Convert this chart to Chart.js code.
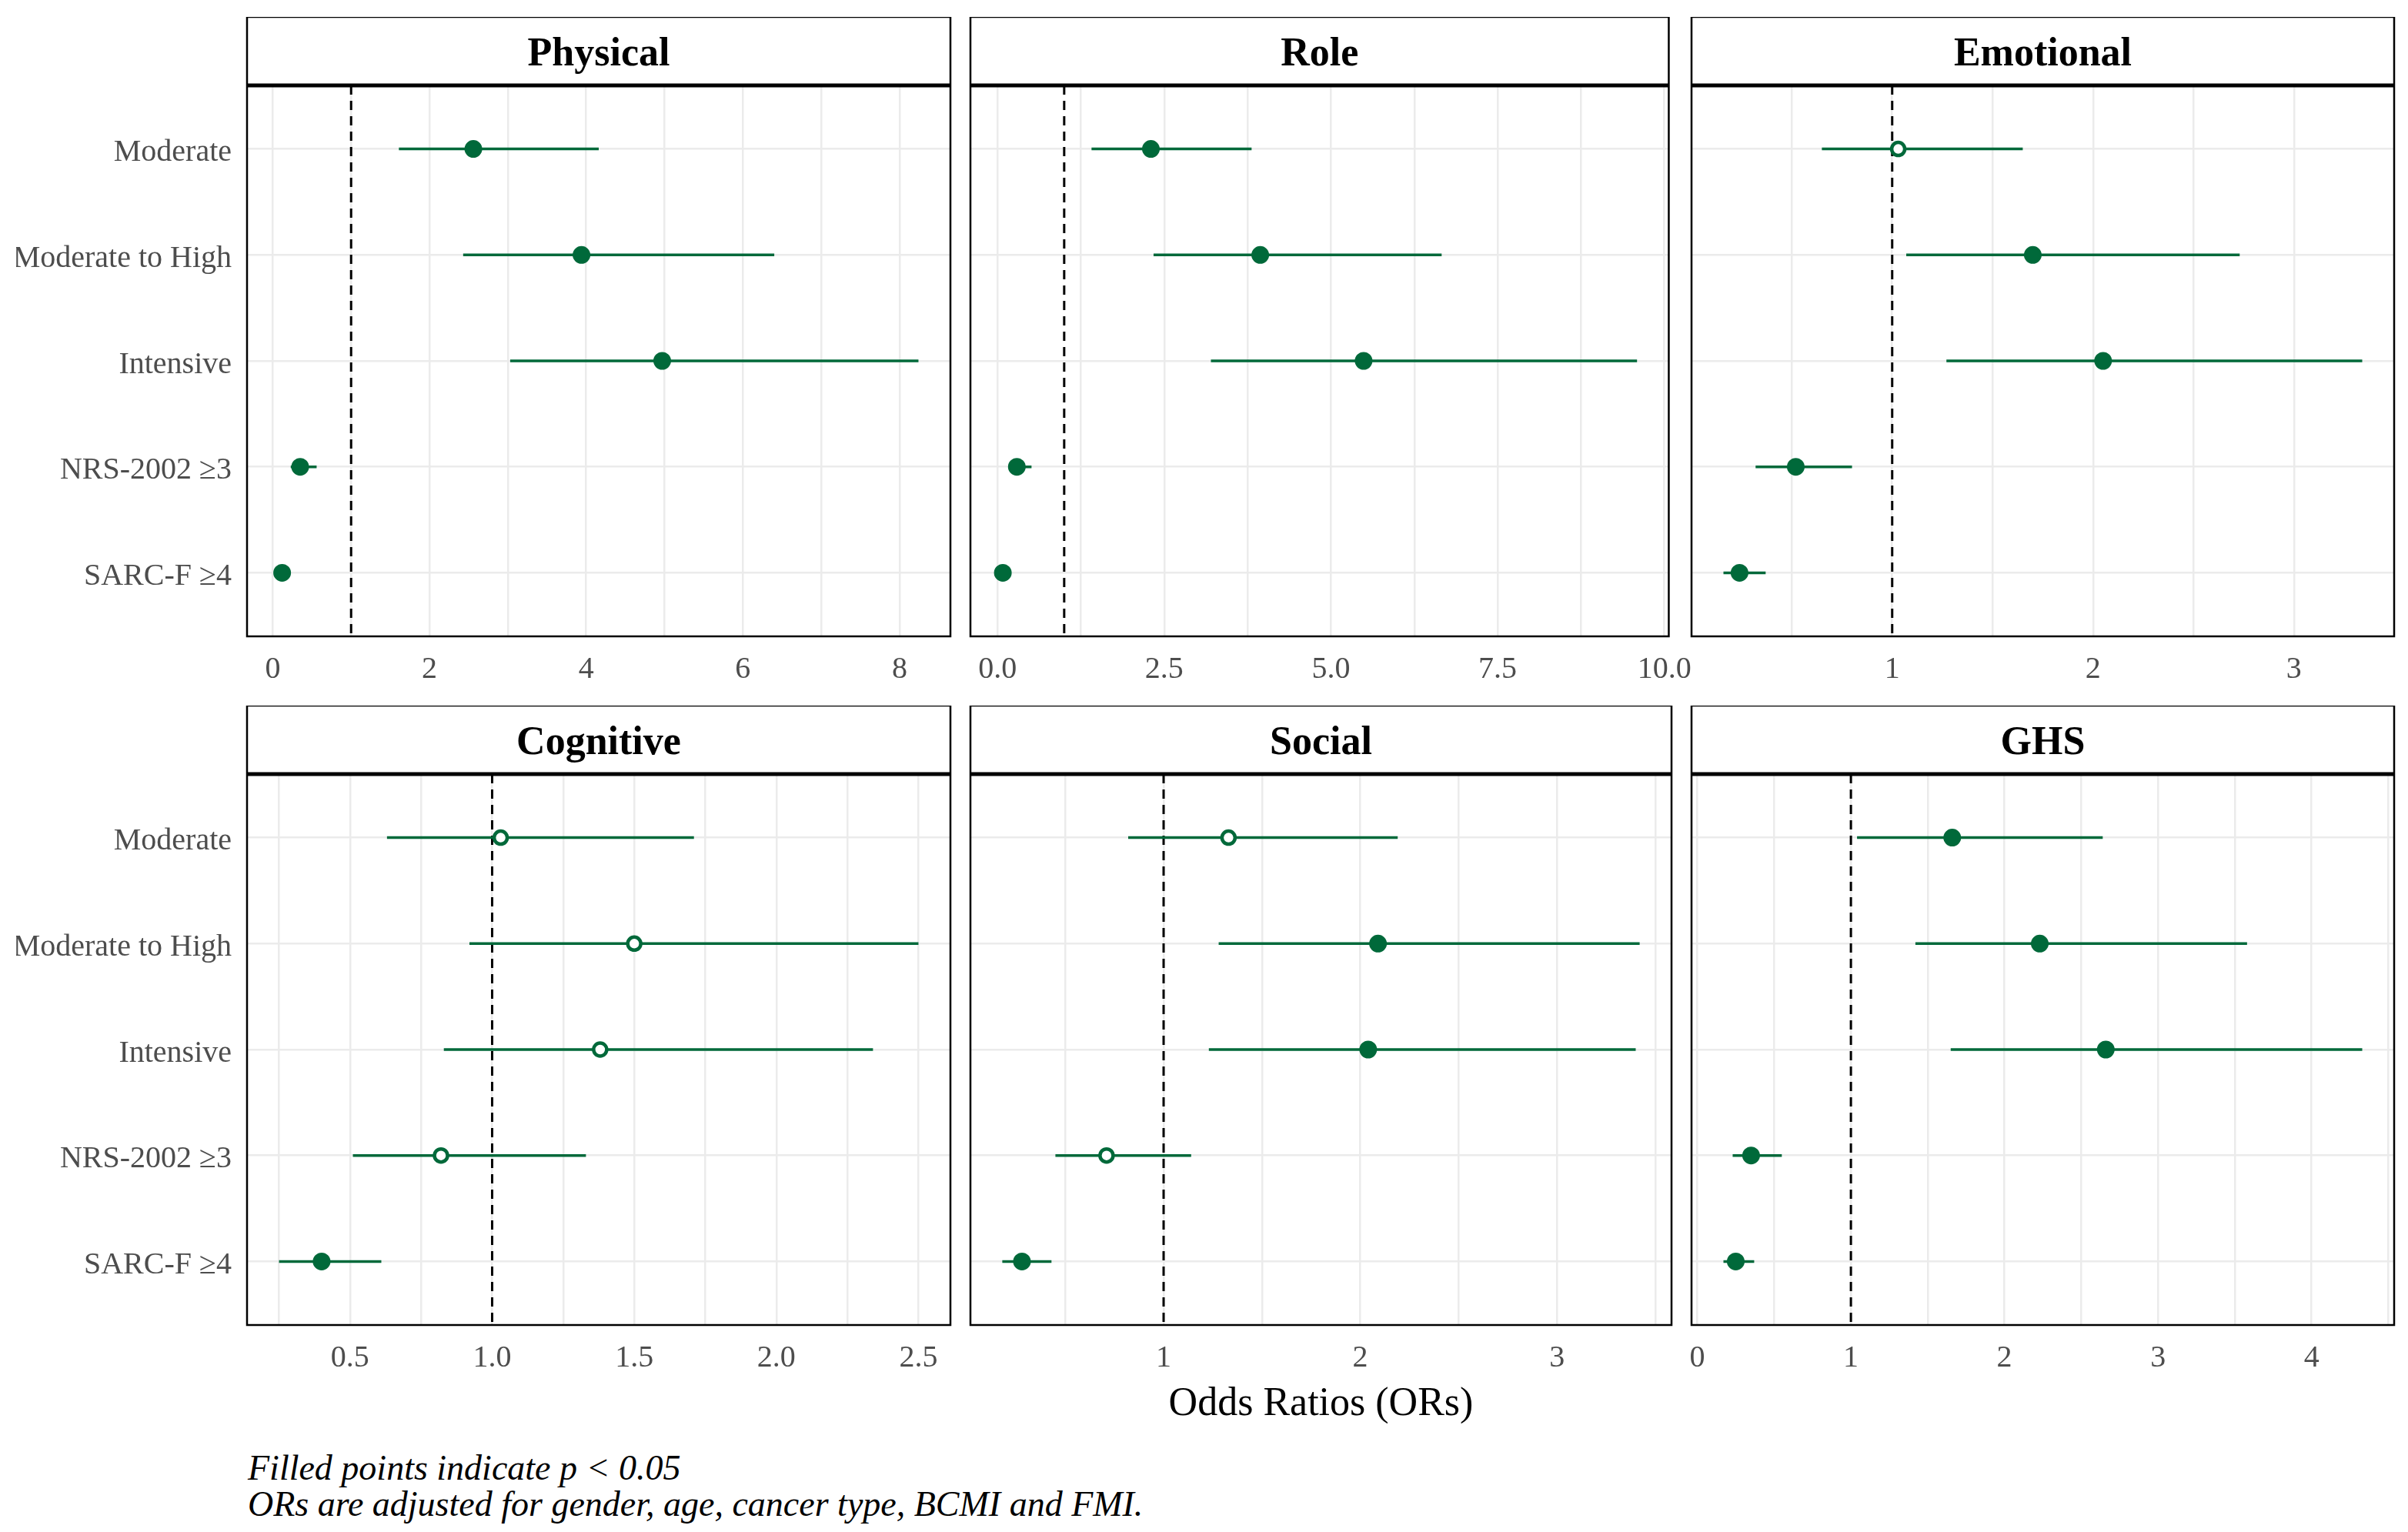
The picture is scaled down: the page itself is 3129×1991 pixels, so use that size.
<!DOCTYPE html>
<html>
<head>
<meta charset="utf-8">
<script src="https://cdn.jsdelivr.net/npm/chart.js@4.4.1/dist/chart.umd.min.js"></script>
<style>
  html, body { margin:0; padding:0; background:#fff; width:3129px; height:1991px; overflow:hidden; }
  canvas { position:absolute; }
  .note { position:absolute; left:322px; font-family:"Liberation Serif", serif; font-style:italic; font-size:46px; line-height:47px; color:#000; white-space:nowrap; }
</style>
</head>
<body>
<div class="note" style="top:1884px">Filled points indicate <i>p</i> &lt; 0.05</div>
<div class="note" style="top:1931px">ORs are adjusted for gender, age, cancer type, BCMI and FMI.</div>
<script>
// ---------------- DATA ----------------
const categories = ['Moderate', 'Moderate to High', 'Intensive', 'NRS-2002 \u22653', 'SARC-F \u22654'];
const panelNames = ['Physical', 'Role', 'Emotional', 'Cognitive', 'Social', 'GHS'];

const physicalOR  = [2.56, 3.94, 4.97, 0.35, 0.12];
const physicalLo  = [1.61, 2.43, 3.03, 0.23, 0.08];
const physicalHi  = [4.16, 6.40, 8.24, 0.56, 0.17];
const physicalSig = [1, 1, 1, 1, 1];

const roleOR  = [2.30, 3.94, 5.49, 0.29, 0.08];
const roleLo  = [1.41, 2.34, 3.20, 0.19, 0.07];
const roleHi  = [3.81, 6.66, 9.59, 0.51, 0.11];
const roleSig = [1, 1, 1, 1, 1];

const emotionalOR  = [1.03, 1.70, 2.05, 0.52, 0.24];
const emotionalLo  = [0.65, 1.07, 1.27, 0.32, 0.16];
const emotionalHi  = [1.65, 2.73, 3.34, 0.80, 0.37];
const emotionalSig = [0, 1, 1, 1, 1];

const cognitiveOR  = [1.03, 1.50, 1.38, 0.82, 0.40];
const cognitiveLo  = [0.63, 0.92, 0.83, 0.51, 0.25];
const cognitiveHi  = [1.71, 2.50, 2.34, 1.33, 0.61];
const cognitiveSig = [0, 0, 0, 0, 1];

const socialOR  = [1.33, 2.09, 2.04, 0.71, 0.28];
const socialLo  = [0.82, 1.28, 1.23, 0.45, 0.18];
const socialHi  = [2.19, 3.42, 3.40, 1.14, 0.43];
const socialSig = [0, 1, 1, 0, 1];

const ghsOR  = [1.66, 2.23, 2.66, 0.35, 0.25];
const ghsLo  = [1.04, 1.42, 1.65, 0.23, 0.17];
const ghsHi  = [2.64, 3.58, 4.33, 0.55, 0.37];
const ghsSig = [1, 1, 1, 1, 1];

// tick steps: minor grid step and labelled (major) step per panel
const minorSteps = [1, 1.25, 0.5, 0.25, 0.5, 0.5];
const majorSteps = [2, 2.5, 1, 0.5, 1, 1];
const tickDecimals = [0, 1, 0, 1, 0, 0];
const referenceLine = 1;
const xAxisTitle = 'Odds Ratios (ORs)';

// ---------------- LAYOUT / STYLE ----------------
const GREEN = '#00693A';
const FONT = '"Liberation Serif", "Times New Roman", serif';
const colLeft = [321, 1261, 2198];
const colWidth = [914, 911, 913];
const rowStripTop = [22, 917];
const stripH = 89;
const plotH = 716;
const PAD = 45;

const panels = [
  {or: physicalOR, lo: physicalLo, hi: physicalHi, sig: physicalSig},
  {or: roleOR, lo: roleLo, hi: roleHi, sig: roleSig},
  {or: emotionalOR, lo: emotionalLo, hi: emotionalHi, sig: emotionalSig},
  {or: cognitiveOR, lo: cognitiveLo, hi: cognitiveHi, sig: cognitiveSig},
  {or: socialOR, lo: socialLo, hi: socialHi, sig: socialSig},
  {or: ghsOR, lo: ghsLo, hi: ghsHi, sig: ghsSig},
];

const framePlugin = {
  id: 'frame',
  beforeDatasetsDraw(chart) {
    const ca = chart.chartArea, x = chart.scales.x.getPixelForValue(referenceLine);
    const ctx = chart.ctx;
    ctx.save();
    ctx.strokeStyle = '#000';
    ctx.lineWidth = 3;
    ctx.setLineDash([12, 8]);
    ctx.beginPath();
    ctx.moveTo(x, ca.top);
    ctx.lineTo(x, ca.bottom);
    ctx.stroke();
    ctx.restore();
  },
  afterDraw(chart, args, opts) {
    const ca = chart.chartArea, ctx = chart.ctx;
    ctx.save();
    ctx.strokeStyle = '#000';
    ctx.lineWidth = 2.5;
    ctx.strokeRect(ca.left, ca.top - stripH, ca.right - ca.left, ca.bottom - ca.top + stripH);
    ctx.lineWidth = 5;
    ctx.beginPath();
    ctx.moveTo(ca.left, ca.top);
    ctx.lineTo(ca.right, ca.top);
    ctx.stroke();
    ctx.fillStyle = '#000';
    ctx.font = 'bold 52px ' + FONT;
    ctx.textAlign = 'center';
    ctx.textBaseline = 'middle';
    ctx.fillText(opts.title, (ca.left + ca.right) / 2, ca.top - stripH / 2 + 5);
    ctx.restore();
  }
};

panels.forEach((p, k) => {
  const col = k % 3, row = Math.floor(k / 3);
  const showY = col === 0;
  const showTitle = k === 4;
  const yW = showY ? 300 : 0;
  const xH = showTitle ? 175 : 80;
  const cv = document.createElement('canvas');
  const W = PAD + yW + colWidth[col] + PAD;
  const H = stripH + plotH + xH;
  cv.width = W; cv.height = H;
  cv.style.width = W + 'px'; cv.style.height = H + 'px';
  cv.style.left = (colLeft[col] - PAD - yW) + 'px';
  cv.style.top = rowStripTop[row] + 'px';
  document.body.appendChild(cv);

  // ggplot-style 5% expansion of the data range
  const all = p.lo.concat(p.hi, p.or, [referenceLine]);
  const dmin = Math.min(...all), dmax = Math.max(...all);
  const ex = (dmax - dmin) * 0.05;

  const pointData = p.or.map((v, i) => ({x: v, y: i + 1}));
  const datasets = [{
    type: 'scatter',
    data: pointData,
    pointRadius: p.sig.map(s => s ? 10 : 8.5),
    pointBorderWidth: p.sig.map(s => s ? 3 : 4.5),
    pointBackgroundColor: p.sig.map(s => s ? GREEN : '#fff'),
    pointBorderColor: GREEN,
    showLine: false,
  }];
  p.or.forEach((v, i) => {
    datasets.push({
      type: 'line',
      data: [{x: p.lo[i], y: i + 1}, {x: p.hi[i], y: i + 1}],
      borderColor: GREEN,
      borderWidth: 3.5,
      pointRadius: 0,
      fill: false,
    });
  });

  const maj = majorSteps[k];
  new Chart(cv, {
    type: 'scatter',
    data: {datasets},
    plugins: [framePlugin],
    options: {
      responsive: false,
      animation: false,
      layout: {padding: {left: PAD, right: PAD, top: stripH, bottom: 0}},
      plugins: {legend: {display: false}, tooltip: {enabled: false}, frame: {title: panelNames[k]}},
      scales: {
        x: {
          type: 'linear',
          min: dmin - ex, max: dmax + ex,
          afterFit: s => { s.height = xH; },
          border: {display: false},
          grid: {color: '#EBEBEB', lineWidth: 2.5, drawTicks: false},
          ticks: {
            stepSize: minorSteps[k], includeBounds: false, autoSkip: false, maxRotation: 0,
            maxTicksLimit: 100, padding: 19, color: '#4D4D4D',
            font: {family: FONT, size: 40},
            callback: v => Math.abs(v / maj - Math.round(v / maj)) < 1e-6 ? Number(v).toFixed(tickDecimals[k]) : ''
          },
          title: {display: showTitle, text: xAxisTitle, color: '#000',
                  font: {family: FONT, size: 52}, padding: {top: 0, bottom: 40}}
        },
        y: {
          type: 'linear',
          min: 0.4, max: categories.length + 0.6, reverse: true,
          afterFit: s => { s.width = yW; },
          border: {display: false},
          grid: {color: '#EBEBEB', lineWidth: 2.5, drawTicks: false},
          ticks: {
            display: showY, stepSize: 1, includeBounds: false, autoSkip: false,
            padding: 20, labelOffset: 5, color: '#4D4D4D', font: {family: FONT, size: 40},
            callback: v => Number.isInteger(v) ? categories[v - 1] : ''
          }
        }
      }
    }
  });
});
</script>
</body>
</html>
